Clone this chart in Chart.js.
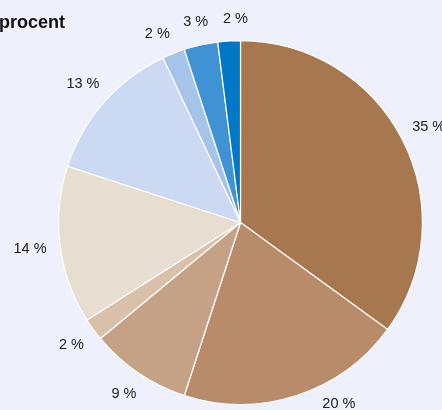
<!DOCTYPE html>
<html>
<head>
<meta charset="utf-8">
<script src="https://cdn.jsdelivr.net/npm/chart.js@4/dist/chart.umd.min.js"></script>
<style>
html,body{margin:0;padding:0;background:#eef1fb;}
#wrap{position:relative;width:442px;height:410px;}
canvas{display:block;}
</style>
</head>
<body>
<div id="wrap"><canvas id="c" width="442" height="410"></canvas></div>
<script>
const categories = ["A", "B", "C", "D", "E", "F", "G", "H", "I"];
const values = [35, 20, 9, 2, 14, 13, 2, 3, 2];
const labels = ["35 %", "20 %", "9 %", "2 %", "14 %", "13 %", "2 %", "3 %", "2 %"];
const colors = ["#a77850", "#b88b6b", "#c5a185", "#d9c0ab", "#e8ddd1", "#cbdaf2", "#a6c4e9", "#3f92d3", "#0078c8"];
const title = "procent";

const labelPlugin = {
  id: "outLabels",
  afterDatasetsDraw(chart) {
    const ctx = chart.ctx;
    const meta = chart.getDatasetMeta(0);
    ctx.save();
    ctx.font = "14.5px 'Liberation Sans', Arial, sans-serif";
    ctx.fillStyle = "#222";
    ctx.textAlign = "center";
    ctx.textBaseline = "middle";
    const H = chart.height;
    const arcs = meta.data.map(a => a.getProps(["x", "y", "startAngle", "endAngle", "outerRadius"], true));
    const ang = arcs.map(p => (p.startAngle + p.endAngle) / 2);
    const hws = labels.map(t => ctx.measureText(t).width / 2);
    const pos = (i) => {
      const p = arcs[i];
      const c = Math.cos(ang[i]), s = Math.sin(ang[i]);
      const R = p.outerRadius + 22 + Math.abs(c) * hws[i] * 0.5;
      let dx = c * R, dy = s * R;
      const maxDy = H - 6 - p.y;
      if (dy > maxDy) {
        dy = maxDy;
        dx = Math.sign(dx) * Math.sqrt(R * R - dy * dy);
      }
      return { x: p.x + dx, y: p.y + dy, R };
    };
    const minDist = 40;
    for (let it = 0; it < 60; it++) {
      for (let i = 0; i < labels.length; i++) {
        const j = (i + 1) % labels.length;
        const a = pos(i), b = pos(j);
        const d = Math.hypot(a.x - b.x, a.y - b.y);
        if (d < minDist) {
          const delta = (minDist - d) / a.R / 2 * 0.5;
          ang[i] -= delta;
          ang[j] += delta;
        }
      }
    }
    labels.forEach((t, i) => {
      const q = pos(i);
      ctx.fillText(t, q.x, q.y);
    });
    ctx.font = "bold 18px 'Liberation Sans', Arial, sans-serif";
    ctx.fillStyle = "#111";
    ctx.textAlign = "left";
    ctx.textBaseline = "alphabetic";
    ctx.fillText(title, -1, 28);
    ctx.restore();
  }
};

new Chart(document.getElementById("c"), {
  type: "pie",
  data: {
    labels: categories,
    datasets: [{
      data: values,
      backgroundColor: colors,
      borderColor: "#ffffff",
      borderWidth: 1.2
    }]
  },
  options: {
    responsive: false,
    animation: false,
    layout: { padding: { left: 58, right: 19, top: 40, bottom: 5 } },
    plugins: {
      legend: { display: false },
      tooltip: { enabled: false }
    }
  },
  plugins: [labelPlugin]
});
</script>
</body>
</html>
